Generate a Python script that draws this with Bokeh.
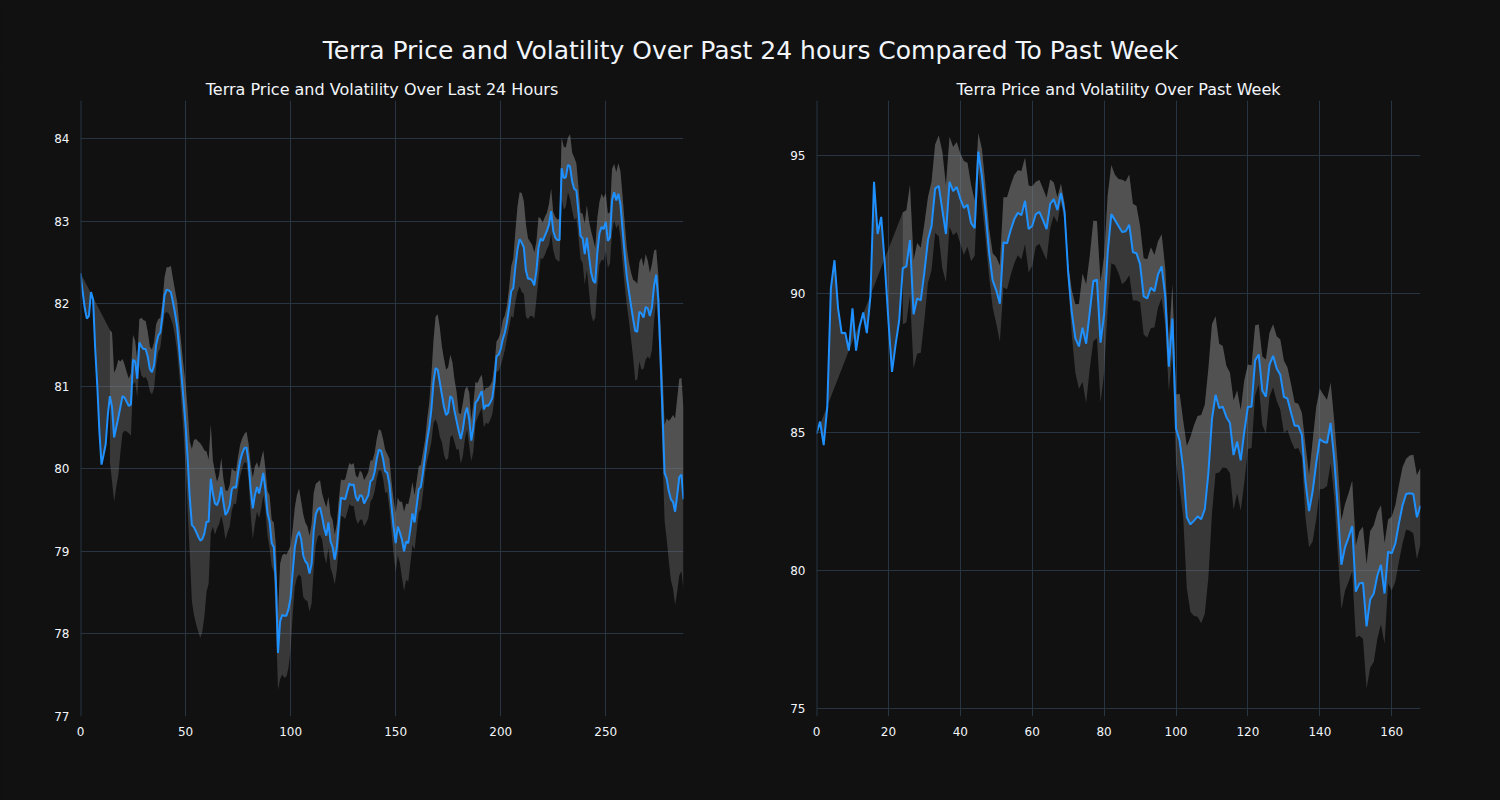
from bokeh.plotting import figure
from bokeh.layouts import column, row
from bokeh.models import Label, Span, Title
from bokeh.embed import file_html
from bokeh.resources import INLINE

# ---------------- data ----------------
MAIN_TITLE = "Terra Price and Volatility Over Past 24 hours Compared To Past Week"
TITLE_24H = "Terra Price and Volatility Over Last 24 Hours"
TITLE_WEEK = "Terra Price and Volatility Over Past Week"

price_24h = [
    82.37, 82.15, 81.95, 81.82, 81.85, 82.14, 82.05, 81.45, 81.00, 80.45,
    80.05, 80.17, 80.30, 80.65, 80.88, 80.75, 80.38, 80.50, 80.62, 80.75,
    80.88, 80.86, 80.81, 80.76, 80.78, 81.32, 81.30, 81.09, 81.53, 81.48,
    81.45, 81.45, 81.36, 81.21, 81.17, 81.25, 81.50, 81.61, 81.65, 81.85,
    82.10, 82.17, 82.16, 82.14, 82.02, 81.88, 81.72, 81.45, 81.15, 80.85,
    80.53, 80.12, 79.65, 79.32, 79.29, 79.24, 79.18, 79.13, 79.15, 79.22,
    79.36, 79.36, 79.88, 79.70, 79.58, 79.56, 79.63, 79.78, 79.60, 79.44,
    79.48, 79.55, 79.75, 79.78, 79.77, 79.95, 80.10, 80.19, 80.25, 80.26,
    80.08, 79.75, 79.52, 79.68, 79.78, 79.70, 79.82, 79.95, 79.75, 79.46,
    79.36, 79.10, 79.05, 78.62, 77.77, 78.15, 78.23, 78.22, 78.22, 78.30,
    78.44, 78.75, 79.05, 79.18, 79.24, 79.15, 78.95, 78.88, 78.85, 78.73,
    78.85, 79.25, 79.45, 79.51, 79.53, 79.42, 79.28, 79.19, 79.35, 79.12,
    79.05, 78.90, 79.05, 79.36, 79.65, 79.64, 79.63, 79.73, 79.82, 79.80,
    79.81, 79.66, 79.61, 79.68, 79.67, 79.58, 79.63, 79.68, 79.85, 79.87,
    79.96, 80.12, 80.23, 80.22, 80.12, 79.97, 79.95, 79.82, 79.55, 79.30,
    79.10, 79.30, 79.23, 79.14, 79.00, 79.12, 79.10, 79.27, 79.46, 79.35,
    79.55, 79.75, 79.78, 79.95, 80.15, 80.35, 80.50, 80.72, 81.05, 81.22,
    81.20, 81.05, 80.90, 80.75, 80.65, 80.68, 80.88, 80.85, 80.70, 80.58,
    80.46, 80.36, 80.48, 80.66, 80.74, 80.60, 80.34, 80.50, 80.80, 80.83,
    80.89, 80.94, 80.72, 80.77, 80.76, 80.80, 80.86, 81.05, 81.36, 81.38,
    81.45, 81.57, 81.65, 81.78, 81.95, 82.15, 82.19, 82.45, 82.66, 82.78,
    82.74, 82.68, 82.40, 82.30, 82.30, 82.28, 82.22, 82.40, 82.68, 82.79,
    82.76, 82.82, 82.88, 82.96, 83.12, 82.88, 82.80, 82.77, 82.77, 83.64,
    83.52, 83.53, 83.68, 83.66, 83.48, 83.39, 83.37, 83.11, 82.82, 82.79,
    82.60, 82.80, 82.58, 82.38, 82.28, 82.25, 82.62, 82.85, 82.93, 82.90,
    82.99, 82.76, 82.80, 83.25, 83.35, 83.25, 83.33, 83.20, 82.90, 82.60,
    82.33, 82.15, 81.98, 81.82, 81.67, 81.66, 81.90, 81.88, 81.83, 81.96,
    81.94, 81.85, 81.96, 82.22, 82.35, 82.05, 81.40, 80.68, 79.95, 79.88,
    79.73, 79.63, 79.60, 79.48, 79.68, 79.90, 79.93, 79.63,
]

# rolling volatility (half-width of the band); undefined for the first points
vol_24h = [None] * 14 + [
    0.80, 0.90, 0.78, 0.72, 0.70, 0.55,
    0.45, 0.40, 0.36, 0.33, 0.38, 0.30, 0.25, 0.22, 0.28, 0.35,
    0.35, 0.34, 0.30, 0.27, 0.27, 0.28, 0.25, 0.20, 0.18, 0.17,
    0.22, 0.27, 0.28, 0.32, 0.28, 0.28, 0.30, 0.30, 0.35, 0.40,
    0.50, 0.60, 0.68, 0.92, 1.06, 1.12, 1.15, 1.18, 1.12, 1.00,
    0.85, 0.75, 0.66, 0.40, 0.38, 0.28, 0.30, 0.35, 0.28, 0.30,
    0.25, 0.25, 0.26, 0.20, 0.20, 0.20, 0.19, 0.18, 0.17, 0.19,
    0.22, 0.30, 0.37, 0.35, 0.30, 0.30, 0.30, 0.27, 0.25, 0.27,
    0.32, 0.28, 0.30, 0.45, 0.45, 0.70, 0.72, 0.75, 0.74, 0.71,
    0.63, 0.52, 0.48, 0.50, 0.52, 0.46, 0.50, 0.47, 0.45, 0.46,
    0.48, 0.46, 0.37, 0.33, 0.33, 0.28, 0.33, 0.34, 0.31, 0.32,
    0.33, 0.30, 0.28, 0.28, 0.22, 0.22, 0.24, 0.25, 0.25, 0.25,
    0.26, 0.26, 0.28, 0.30, 0.28, 0.28, 0.28, 0.28, 0.25, 0.23,
    0.23, 0.24, 0.25, 0.24, 0.24, 0.26, 0.23, 0.30, 0.30, 0.33,
    0.36, 0.35, 0.37, 0.46, 0.48, 0.46, 0.47, 0.42, 0.38, 0.33,
    0.30, 0.28, 0.27, 0.25, 0.20, 0.25, 0.30, 0.40, 0.50, 0.62,
    0.67, 0.66, 0.58, 0.58, 0.55, 0.55, 0.50, 0.44, 0.38, 0.35,
    0.22, 0.30, 0.32, 0.30, 0.26, 0.32, 0.25, 0.29, 0.25, 0.21,
    0.21, 0.20, 0.22, 0.21, 0.22, 0.21, 0.20, 0.20, 0.18, 0.20,
    0.20, 0.23, 0.21, 0.20, 0.24, 0.30, 0.36, 0.43, 0.52, 0.57,
    0.60, 0.56, 0.56, 0.49, 0.45, 0.43, 0.40, 0.35, 0.37, 0.24,
    0.22, 0.23, 0.22, 0.25, 0.27, 0.23, 0.25, 0.25, 0.26, 0.37,
    0.38, 0.36, 0.33, 0.39, 0.35, 0.38, 0.33, 0.30, 0.28, 0.30,
    0.37, 0.39, 0.42, 0.50, 0.50, 0.42, 0.42, 0.38, 0.40, 0.38,
    0.35, 0.33, 0.31, 0.38, 0.34, 0.34, 0.37, 0.40, 0.40, 0.38,
    0.35, 0.35, 0.40, 0.47, 0.60, 0.58, 0.60, 0.68, 0.62, 0.64,
    0.58, 0.52, 0.52, 0.42, 0.31, 0.30, 0.35, 0.50, 0.58, 0.73,
    0.85, 0.98, 1.05, 1.13, 1.17, 1.19, 1.17, 1.10,
]

price_week = [
    84.94, 85.38, 84.53, 85.92, 90.20, 91.22, 89.48, 88.58, 88.60, 87.95,
    89.48, 87.95, 88.82, 89.33, 88.58, 89.91, 94.06, 92.17, 92.79, 91.08,
    89.04, 87.18, 88.17, 89.04, 90.93, 91.00, 91.95, 89.26, 89.84, 89.77,
    90.78, 91.95, 92.46, 93.81, 93.91, 93.04, 92.17, 94.06, 93.72, 93.87,
    93.45, 93.11, 93.23, 92.56, 92.38, 95.15, 94.27, 92.97, 91.51, 90.49,
    90.13, 89.65, 91.87, 91.83, 92.31, 92.70, 92.94, 92.85, 93.37, 92.35,
    92.46, 92.89, 92.97, 92.67, 92.35, 93.26, 93.43, 93.04, 93.65, 92.97,
    90.78, 89.33, 88.39, 88.10, 88.78, 88.20, 89.33, 90.47, 90.52, 88.24,
    89.26, 91.51, 92.89, 92.68, 92.46, 92.24, 92.27, 92.50, 91.51, 91.47,
    91.08, 89.91, 89.84, 90.23, 90.10, 90.71, 91.00, 89.91, 87.37, 89.11,
    85.12, 84.69, 83.66, 81.92, 81.66, 81.80, 81.95, 81.85, 82.21, 83.52,
    85.48, 86.35, 85.87, 85.92, 85.55, 85.33, 84.17, 84.65, 83.98, 85.04,
    85.92, 85.92, 87.59, 87.81, 86.50, 86.28, 87.44, 87.76, 87.30, 87.08,
    86.28, 86.21, 85.70, 85.23, 85.23, 84.90, 83.23, 82.14, 82.86, 83.88,
    84.75, 84.65, 84.61, 85.33, 84.03, 82.21, 80.20, 80.83, 81.19, 81.60,
    79.23, 79.52, 79.55, 77.97, 78.94, 79.16, 79.81, 80.20, 79.16, 80.68,
    80.61, 80.97, 81.70, 82.35, 82.76, 82.79, 82.76, 81.92, 82.33,
]

vol_week = [None] * 24 + [
    2.03, 2.03, 2.00, 1.96, 2.00, 1.90,
    1.75, 1.55, 1.60, 1.60, 1.82, 2.11, 1.75, 1.63, 1.60, 1.63,
    1.63, 1.70, 1.52, 1.38, 1.00, 0.67, 0.98, 0.95, 0.87, 0.98,
    1.20, 1.38, 1.63, 1.67, 1.63, 1.60, 1.54, 1.60, 1.57, 1.57,
    1.44, 1.17, 1.15, 1.15, 1.13, 0.88, 0.60, 0.46, 0.34, 0.30,
    0.33, 0.80, 1.24, 1.54, 1.96, 2.15, 2.04, 2.18, 2.12, 2.18,
    2.11, 2.07, 1.78, 1.63, 1.70, 1.89, 1.80, 1.82, 1.75, 1.71,
    1.38, 1.38, 1.42, 1.46, 1.31, 1.20, 1.16, 1.02, 0.90, 1.24,
    1.24, 1.70, 1.75, 2.58, 3.16, 3.45, 3.63, 3.77, 3.78, 3.78,
    3.42, 2.84, 2.33, 2.20, 1.85, 1.82, 1.97, 1.86, 1.82, 1.85,
    1.53, 1.49, 1.27, 1.09, 1.24, 1.35, 1.16, 1.14, 1.17, 1.27,
    1.31, 1.13, 1.02, 0.84, 0.80, 0.80, 1.30, 1.31, 1.82, 2.03,
    1.82, 1.70, 1.56, 1.46, 1.38, 1.60, 1.61, 1.57, 1.60, 1.64,
    1.67, 1.89, 2.03, 2.25, 2.47, 2.47, 2.29, 2.15, 1.82, 1.16,
    1.34, 1.38, 1.38, 1.38, 1.28, 1.36, 1.42, 1.52, 1.38,
]

ticks_x_24h = [0, 50, 100, 150, 200, 250]
ticks_y_24h = [77, 78, 79, 80, 81, 82, 83, 84]
ticks_x_week = [0, 20, 40, 60, 80, 100, 120, 140, 160]
ticks_y_week = [75, 80, 85, 90, 95]

# ---------------- style ----------------
BG = "#111111"
GRID = "#283442"
TXT = "#f2f5fa"
LINE = "#1e90ff"
BAND = "#808080"
FONT = "DejaVu Sans"
HEAD_H = 70


def panel(price, vol, title, y_range, xticks, yticks, left_b, right_b, frame_w):
    n = len(price)
    xs = list(range(n))
    first = next(i for i, v in enumerate(vol) if v is not None)
    xv = xs[first:]
    upper = [p + v for p, v in zip(price[first:], vol[first:])]
    lower = [p - v for p, v in zip(price[first:], vol[first:])]

    p = figure(
        frame_width=frame_w, frame_height=616,
        x_range=(0, n - 1), y_range=y_range,
        output_backend="svg", toolbar_location=None,
        background_fill_color=BG, border_fill_color=BG,
        min_border_left=left_b, min_border_right=right_b,
        min_border_top=100 - HEAD_H, min_border_bottom=800 - 716,
        outline_line_color=None,
    )
    p.title = Title(text=title, align="center", text_font=FONT,
                    text_font_size="16px", text_font_style="normal",
                    text_color=TXT, standoff=3)

    # band between price and upper (fills like plotly "tonexty")
    p.patch(xv + xs[::-1], upper + price[::-1],
            fill_color=BAND, fill_alpha=0.35, line_color=None)
    # band between upper and lower
    p.patch(xv + xv[::-1], lower + upper[::-1],
            fill_color=BAND, fill_alpha=0.35, line_color=None)
    p.line(xs, price, line_color=LINE, line_width=2)

    p.add_layout(Span(location=0, dimension="height",
                      line_color=GRID, line_width=2))

    p.xaxis.ticker = xticks
    p.yaxis.ticker = yticks
    for ax in (p.xaxis[0], p.yaxis[0]):
        ax.axis_line_color = None
        ax.major_tick_line_color = None
        ax.minor_tick_line_color = None
        ax.major_label_text_color = TXT
        ax.major_label_text_font = FONT
        ax.major_label_text_font_size = "12px"
    p.xaxis.major_label_standoff = 4
    p.yaxis.major_label_standoff = 5
    p.xgrid.grid_line_color = GRID
    p.ygrid.grid_line_color = GRID
    p.xgrid.grid_line_width = 1
    p.ygrid.grid_line_width = 1
    return p


p1 = panel(price_24h, vol_24h, TITLE_24H, (77.0, 84.46),
           ticks_x_24h, ticks_y_24h, 80, 67, 603)
p2 = panel(price_week, vol_week, TITLE_WEEK, (74.71, 97.0),
           ticks_x_week, ticks_y_week, 66, 80, 604)

head = figure(width=1500, height=HEAD_H, x_range=(0, 1500), y_range=(0, HEAD_H),
              output_backend="svg", toolbar_location=None,
              background_fill_color=BG, border_fill_color=BG,
              min_border=0, outline_line_color=None)
head.axis.visible = False
head.grid.visible = False
head.add_layout(Label(x=750, y=HEAD_H - 50, text=MAIN_TITLE, text_align="center",
                      text_baseline="middle", text_font=FONT,
                      text_font_size="25px", text_color=TXT))

layout = column(head, row(p1, p2, spacing=0), spacing=0,
                styles={"background-color": BG})

open("out.html", "w").write(file_html(layout, INLINE))
